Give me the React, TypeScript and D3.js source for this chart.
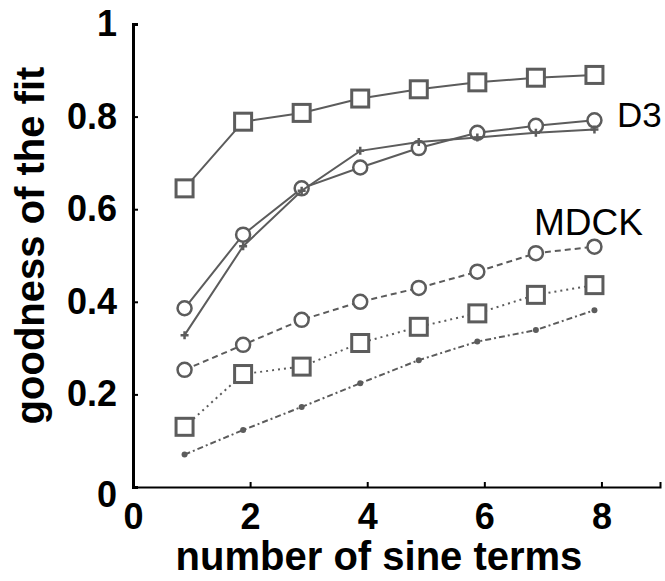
import React, { useEffect, useRef } from 'react';
import * as d3 from 'd3';

// number of sine terms
const terms = [1, 2, 3, 4, 5, 6, 7, 8];

// D3 cells (solid lines)
const d3Squares = [0.645, 0.789, 0.808, 0.839, 0.859, 0.874, 0.884, 0.89];
const d3Circles = [0.386, 0.545, 0.645, 0.69, 0.732, 0.765, 0.78, 0.792];
const d3Points = [0.328, 0.52, 0.64, 0.726, 0.745, 0.755, 0.765, 0.772];

// MDCK cells
const mdckCircles = [0.253, 0.307, 0.361, 0.4, 0.43, 0.465, 0.505, 0.519];
const mdckSquares = [0.13, 0.244, 0.26, 0.311, 0.346, 0.375, 0.415, 0.436];
const mdckPoints = [0.07, 0.123, 0.173, 0.224, 0.274, 0.314, 0.339, 0.382];

const yTicks = [0, 0.2, 0.4, 0.6, 0.8, 1];
const xTicks = [0, 2, 4, 6, 8];

const W = 665;
const H = 581;
const GREY = '#5c5c5c';
const FONT = '"Liberation Sans", Arial, sans-serif';

type Series = { values: number[]; marker: 'square' | 'circle' | 'point' | 'plus'; dash: string };

const series: Series[] = [
  { values: d3Squares, marker: 'square', dash: '' },
  { values: d3Circles, marker: 'circle', dash: '' },
  { values: d3Points, marker: 'plus', dash: '' },
  { values: mdckCircles, marker: 'circle', dash: '6,4' },
  { values: mdckSquares, marker: 'square', dash: '2,4' },
  { values: mdckPoints, marker: 'point', dash: '6,3,2,3' },
];

export default function App() {
  const ref = useRef<SVGSVGElement>(null);

  useEffect(() => {
    const svg = d3.select(ref.current);
    svg.selectAll('*').remove();

    const x = d3.scaleLinear().domain([0, 9]).range([133, 660]);
    const y = d3.scaleLinear().domain([0, 1]).range([487, 24]);

    // axes
    const yAxis = svg.append('g').attr('transform', `translate(${x(0)},0)`)
      .call(d3.axisLeft(y).tickValues(yTicks).tickSize(-5).tickFormat(d => (d === 0 ? '' : d3.format('')(d as number))).tickPadding(16));
    yAxis.select('.domain').attr('stroke', '#000').attr('stroke-width', 3);
    yAxis.selectAll('.tick line').attr('stroke', '#000').attr('stroke-width', 2);
    yAxis.selectAll('.tick text').attr('font-size', 36).attr('font-family', FONT).attr('font-weight', 'bold').attr('fill', '#000');

    const xAxis = svg.append('g').attr('transform', `translate(0,${y(0)})`)
      .call(d3.axisBottom(x).tickValues(xTicks).tickSize(-5).tickFormat(d3.format('d')).tickPadding(16));
    xAxis.select('.domain').attr('stroke', '#000').attr('stroke-width', 2);
    xAxis.selectAll('.tick line').attr('stroke', '#000').attr('stroke-width', 2);
    xAxis.selectAll('.tick text').attr('font-size', 36).attr('font-family', FONT).attr('font-weight', 'bold').attr('fill', '#000');

    // the y "0" label sits down-left of the origin
    svg.append('text').attr('x', x(0) - 16).attr('y', y(0) + 20).attr('text-anchor', 'end')
      .attr('font-size', 36).attr('font-family', FONT).attr('font-weight', 'bold').text('0');

    // data, markers sit slightly left of the ticks in the original
    const plot = svg.append('g').attr('transform', 'translate(-7,0)');
    const line = d3.line<number>().x((_, i) => x(terms[i])).y(d => y(d));

    series.forEach(s => {
      plot.append('path').attr('d', line(s.values)).attr('fill', 'none')
        .attr('stroke', GREY).attr('stroke-width', 2).attr('stroke-dasharray', s.dash || null);
      const g = plot.append('g');
      s.values.forEach((v, i) => {
        const cx = x(terms[i]);
        const cy = y(v);
        if (s.marker === 'square') {
          g.append('rect').attr('x', cx - 8.5).attr('y', cy - 8.5).attr('width', 17).attr('height', 17)
            .attr('fill', '#fff').attr('stroke', GREY).attr('stroke-width', 3);
        } else if (s.marker === 'circle') {
          g.append('circle').attr('cx', cx).attr('cy', cy).attr('r', 7)
            .attr('fill', '#fff').attr('stroke', GREY).attr('stroke-width', 2.5);
        } else if (s.marker === 'plus') {
          g.append('path').attr('d', `M${cx - 4},${cy}H${cx + 4}M${cx},${cy - 4}V${cy + 4}`)
            .attr('stroke', GREY).attr('stroke-width', 2.5);
        } else {
          g.append('circle').attr('cx', cx).attr('cy', cy).attr('r', 3).attr('fill', GREY);
        }
      });
    });

    // labels
    svg.append('text').attr('x', 617).attr('y', 127).attr('font-size', 35).attr('font-family', FONT).text('D3');
    svg.append('text').attr('x', 534).attr('y', 235).attr('font-size', 37).attr('font-family', FONT).text('MDCK');

    svg.append('text').attr('x', 379).attr('y', 570).attr('text-anchor', 'middle')
      .attr('font-size', 40).attr('font-family', FONT).attr('font-weight', 'bold').text('number of sine terms');
    svg.append('text').attr('transform', `translate(44,${(y(0) + y(1)) / 2 - 10}) rotate(-90)`).attr('text-anchor', 'middle')
      .attr('font-size', 40).attr('font-family', FONT).attr('font-weight', 'bold').text('goodness of the fit');
  }, []);

  return (
    <svg ref={ref} width={W} height={H} style={{ position: 'absolute', left: 0, top: 0, background: '#fff' }} />
  );
}
